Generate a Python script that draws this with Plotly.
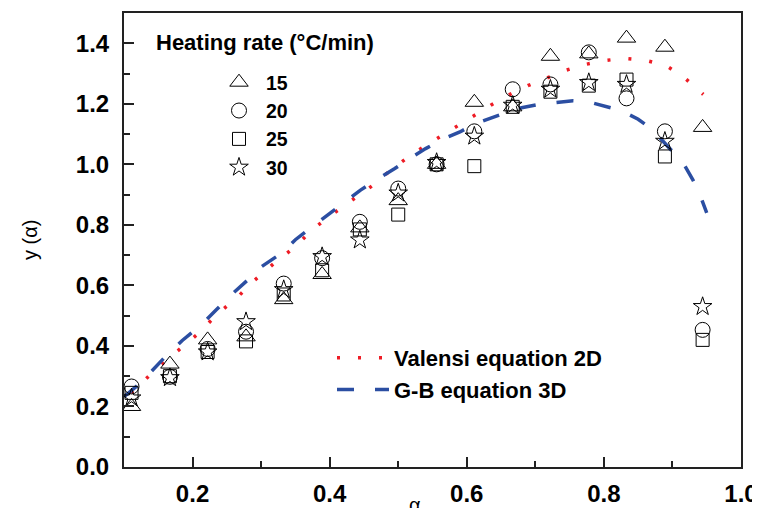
import plotly.graph_objects as go

# ---------------- data ----------------
alpha = [0.111, 0.167, 0.222, 0.278, 0.333, 0.389, 0.444, 0.500, 0.556,
         0.611, 0.667, 0.722, 0.778, 0.833, 0.889, 0.944]

y_15 = [0.20, 0.34, 0.42, 0.43, 0.553, 0.636, 0.79, 0.88, 1.00,
        1.205, 1.19, 1.357, 1.365, 1.417, 1.387, 1.122]
y_20 = [0.266, 0.298, 0.39, 0.447, 0.606, 0.69, 0.81, 0.92, 1.00,
        1.109, 1.248, 1.264, 1.37, 1.218, 1.109, 0.453]
y_25 = [0.245, 0.30, 0.38, 0.415, 0.57, 0.65, 0.785, 0.834, 1.00,
        0.994, 1.19, 1.24, 1.26, 1.28, 1.026, 0.42]
y_30 = [0.228, 0.295, 0.38, 0.48, 0.586, 0.695, 0.75, 0.905, 1.006,
        1.093, 1.195, 1.248, 1.27, 1.264, 1.076, 0.53]

valensi_x = [0.11, 0.12, 0.15, 0.18, 0.21, 0.235, 0.265, 0.29, 0.32, 0.35,
             0.375, 0.405, 0.435, 0.465, 0.49, 0.52, 0.55, 0.58, 0.605,
             0.635, 0.66, 0.69, 0.72, 0.745, 0.775, 0.805, 0.83, 0.86,
             0.89, 0.915, 0.945]
valensi_y = [0.245, 0.265, 0.33, 0.387, 0.444, 0.503, 0.56, 0.616, 0.675,
             0.728, 0.785, 0.837, 0.887, 0.934, 0.983, 1.033, 1.076, 1.119,
             1.155, 1.195, 1.228, 1.261, 1.288, 1.311, 1.331, 1.344, 1.35,
             1.344, 1.327, 1.291, 1.231]

gb_x = [0.10, 0.12, 0.14, 0.16, 0.185, 0.21, 0.235, 0.255, 0.28, 0.30, 0.33,
        0.35, 0.375, 0.40, 0.425, 0.445, 0.47, 0.495, 0.52, 0.54, 0.565,
        0.59, 0.61, 0.635, 0.66, 0.68, 0.705, 0.73, 0.755, 0.775, 0.80,
        0.825, 0.85, 0.87, 0.895, 0.915, 0.93, 0.94, 0.95]
gb_y = [0.232, 0.27, 0.316, 0.364, 0.418, 0.464, 0.52, 0.566, 0.617, 0.661,
        0.707, 0.751, 0.795, 0.837, 0.881, 0.915, 0.952, 0.986, 1.024,
        1.052, 1.083, 1.107, 1.132, 1.154, 1.173, 1.187, 1.198, 1.204,
        1.21, 1.208, 1.194, 1.178, 1.149, 1.116, 1.055, 1.007, 0.948,
        0.90, 0.84]

rate_labels = ["15", "20", "25", "30"]
x_tickvals = [0.2, 0.4, 0.6, 0.8, 1.0]
x_ticktext = ["0.2", "0.4", "0.6", "0.8", "1.0"]
y_tickvals = [0.0, 0.2, 0.4, 0.6, 0.8, 1.0, 1.2, 1.4]
y_ticktext = ["0.0", "0.2", "0.4", "0.6", "0.8", "1.0", "1.2", "1.4"]

# ---------------- figure ----------------
FONT = "Liberation Sans, Arial, sans-serif"
fig = go.Figure()

fig.add_trace(go.Scatter(
    x=valensi_x, y=valensi_y, mode="lines", name="Valensi equation 2D",
    line=dict(color="#ee1c25", width=3.5, dash="3px,18px"), legend="legend2"))
fig.add_trace(go.Scatter(
    x=gb_x, y=gb_y, mode="lines", name="G-B equation 3D",
    line=dict(color="#2b4ea2", width=3.5, dash="17px,21px"), legend="legend2"))

marker_specs = [("triangle-up-open", 16), ("circle-open", 15),
                ("square-open", 13), ("star-open", 14)]
for lab, ys, (sym, sz) in zip(rate_labels, [y_15, y_20, y_25, y_30], marker_specs):
    fig.add_trace(go.Scatter(
        x=alpha, y=ys, mode="markers", name=lab, legendgroup=lab,
        marker=dict(symbol=sym, size=sz, color="black",
                    line=dict(color="black", width=1)),
        legend="legend"))

axis_common = dict(
    showline=True, linecolor="#222222", linewidth=2, mirror=True,
    ticks="inside", ticklen=10, tickwidth=1.5, tickcolor="#222222",
    showgrid=False, zeroline=False, automargin=False,
    tickfont=dict(family=FONT, size=24, color="black", weight="bold"),
)

fig.update_xaxes(range=[0.1, 1.0], tickvals=x_tickvals, ticktext=x_ticktext,
                 minor=dict(dtick=0.1, tick0=0.1, ticks="inside", ticklen=6,
                            tickwidth=1.5, tickcolor="#222222"),
                 ticklabelstandoff=4, **axis_common)
fig.update_yaxes(range=[0, 1.5], tickvals=y_tickvals, ticktext=y_ticktext,
                 minor=dict(dtick=0.1, tick0=0.0, ticks="inside", ticklen=6,
                            tickwidth=1.5, tickcolor="#222222"),
                 ticklabelstandoff=8, **axis_common)

# The page body adds an 8px offset, so the figure is 752x500 and the plot
# area lands on screen at x 124..741, y 13..467 as in the reference.
fig.update_layout(
    width=752, height=500,
    margin=dict(l=116, r=19, t=5, b=41),
    paper_bgcolor="white", plot_bgcolor="white",
    showlegend=True,
    legend=dict(x=(212 - 124) / 617, y=(467 - 63) / 454, xanchor="left",
                yanchor="top", bgcolor="rgba(0,0,0,0)", traceorder="grouped",
                tracegroupgap=0, itemwidth=44,
                font=dict(family=FONT, size=19.5, color="black", weight="bold")),
    legend2=dict(x=(332 - 124) / 617, y=(467 - 337) / 454, xanchor="left",
                 yanchor="top", bgcolor="rgba(0,0,0,0)", itemwidth=52,
                 font=dict(family=FONT, size=22, color="black", weight="bold")),
    annotations=[
        dict(text="Heating rate (°C/min)", xref="paper", yref="paper",
             x=(154 - 124) / 617, y=(467 - 43) / 454, xanchor="left",
             yanchor="middle", showarrow=False,
             font=dict(family=FONT, size=22, color="black", weight="bold")),
        dict(text="y (α)", xref="paper", yref="paper",
             x=(30 - 124) / 617, y=0.5, xanchor="center", yanchor="middle",
             textangle=-90, showarrow=False,
             font=dict(family=FONT, size=20, color="black")),
        dict(text="α", xref="paper", yref="paper",
             x=(415 - 124) / 617, y=(467 - 492) / 454, xanchor="center",
             yanchor="top", showarrow=False,
             font=dict(family=FONT, size=20, color="black")),
    ],
)

fig.write_html("out.html")
